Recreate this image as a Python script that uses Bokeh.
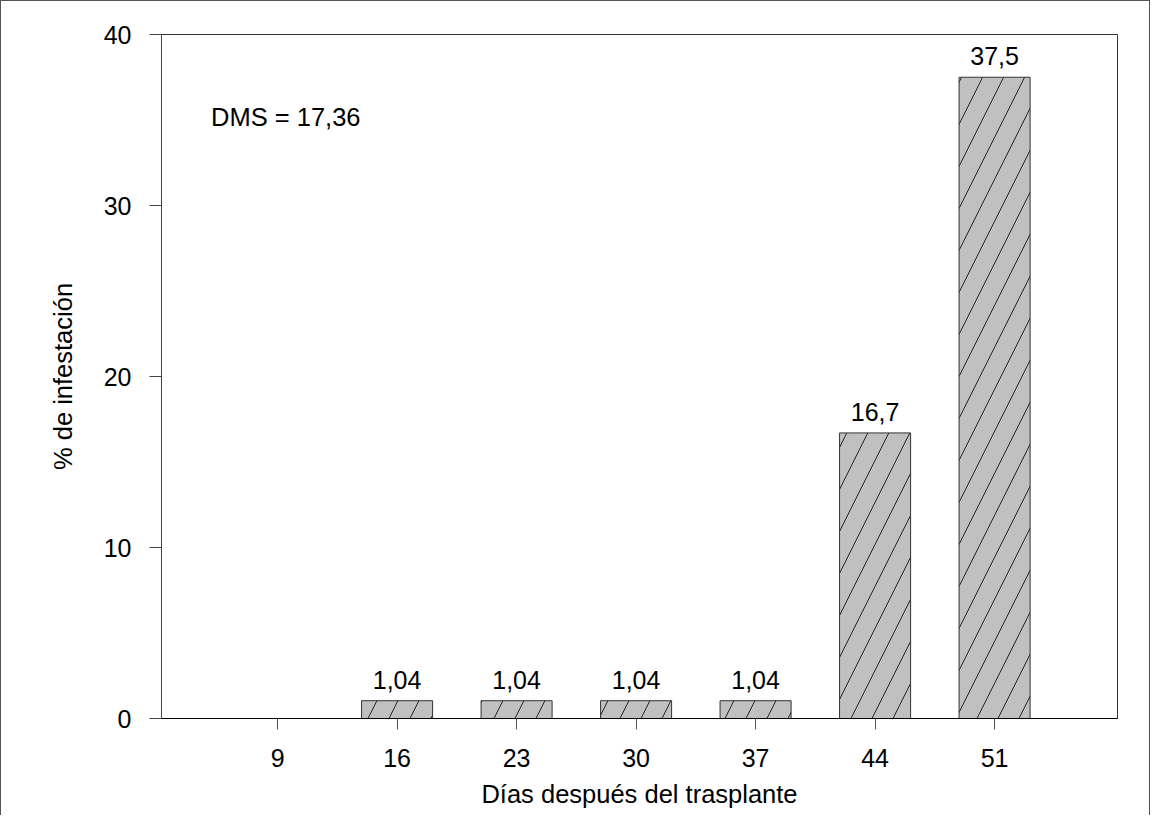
from bokeh.plotting import figure
from bokeh.models import ColumnDataSource, FixedTicker, LabelSet, Label
from bokeh.core.properties import value
from bokeh.embed import file_html
from bokeh.resources import INLINE

# ---- data ----
days = [9, 16, 23, 30, 37, 44, 51]
infestation = [0, 1.04, 1.04, 1.04, 1.04, 16.7, 37.5]
y_ticks = [0, 10, 20, 30, 40]
dms = 17.36

def es(v):
    return ("%g" % v).replace(".", ",")

value_labels = [es(v) if v > 0 else "" for v in infestation]

src = ColumnDataSource(dict(x=days, top=infestation, lab=value_labels))

FONT = "Liberation Sans"

p = figure(width=1150, height=815, output_backend="svg", toolbar_location=None,
           x_range=(2.2, 58.2), y_range=(0, 40),
           min_border_left=160, min_border_right=34,
           min_border_top=33, min_border_bottom=98)

p.styles = {"border-left": "1px solid #555", "border-top": "1px solid #555",
            "border-right": "1px solid #555"}

p.grid.visible = False
p.outline_line_color = "#333"
p.outline_line_width = 1
p.background_fill_color = "white"
p.border_fill_color = "white"

p.vbar(x="x", top="top", bottom=0, width=4.16, source=src,
       fill_color="#c0c0c0", line_color="#333", line_width=1,
       hatch_pattern="/", hatch_color="#222", hatch_weight=1, hatch_scale=42)

p.add_layout(LabelSet(x="x", y="top", text="lab", source=src,
                      text_align="center", text_baseline="alphabetic",
                      y_offset=12, text_font=value(FONT),
                      text_font_size="25px", text_color="black"))

p.add_layout(Label(x=5.1, y=35.2, text="DMS = " + es(dms),
                   text_font=FONT, text_font_size="25.5px",
                   text_baseline="alphabetic", text_align="left",
                   text_color="black"))

# axes
p.xaxis.ticker = FixedTicker(ticks=days)
p.yaxis.ticker = FixedTicker(ticks=y_ticks)
p.xaxis.axis_label = "Días después del trasplante"
p.yaxis.axis_label = "% de infestación"

for ax in (p.xaxis, p.yaxis):
    ax.minor_tick_line_color = None
    ax.major_tick_in = 0
    ax.major_label_text_font = FONT
    ax.major_label_text_font_size = "25px"
    ax.major_label_text_color = "black"
    ax.axis_label_text_font = FONT
    ax.axis_label_text_font_size = "25.5px"
    ax.axis_label_text_font_style = "normal"
    ax.axis_label_text_color = "black"

p.yaxis.major_tick_out = 12
p.yaxis.axis_line_color = "#444"
p.yaxis.major_tick_line_color = "#444"
p.yaxis.major_label_standoff = 18
p.yaxis.axis_label_standoff = 24

p.xaxis.major_tick_out = 11
p.xaxis.axis_line_color = "black"
p.xaxis.major_tick_line_color = "#555"
p.xaxis.major_label_standoff = 19
p.xaxis.axis_label_standoff = 10

open("out.html", "w").write(file_html(p, INLINE))
